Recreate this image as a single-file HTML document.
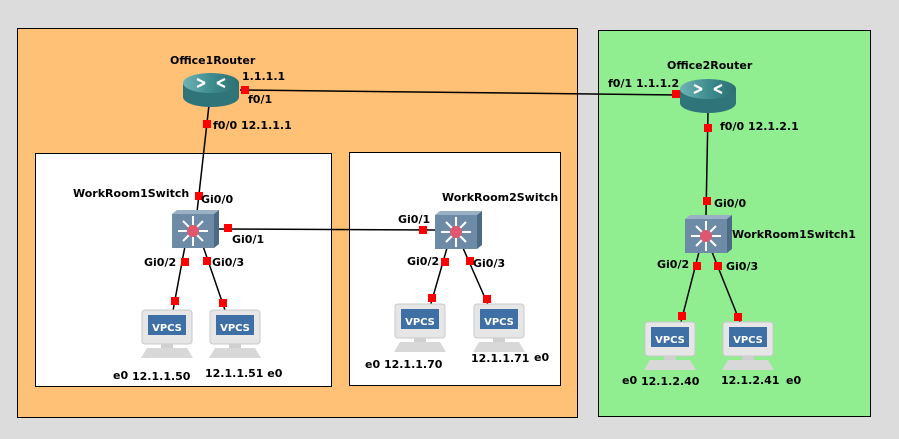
<!DOCTYPE html>
<html><head><meta charset="utf-8"><style>
html,body{margin:0;padding:0;background:#dcdcdc;}
svg{display:block;font-family:"DejaVu Sans","Liberation Sans",sans-serif;font-weight:bold;font-size:11px;}
</style></head><body>
<svg width="899" height="439" viewBox="0 0 899 439" xmlns="http://www.w3.org/2000/svg">
<defs>
<linearGradient id="rg" x1="0" y1="0" x2="1" y2="0"><stop offset="0" stop-color="#6fb3b6"/><stop offset="0.5" stop-color="#3f8c8f"/><stop offset="1" stop-color="#2c6f72"/></linearGradient>
<g id="router">
<path d="M-28,-7 v14 a28,10 0 0 0 56,0 v-14 z" fill="#2f7478"/>
<ellipse cx="0" cy="-7" rx="28" ry="10" fill="url(#rg)"/>
<path d="M-14,-11 l8,4 M-14,-3 l8,-4 M14,-11 l-8,4 M14,-3 l-8,-4" stroke="#fff" stroke-width="2.2" fill="none"/>
</g>
<g id="switch">
<path d="M-21,-15 l5,-4 h42 l-5,4 z" fill="#9ab0c4"/>
<path d="M21,-15 l5,-4 v34 l-5,4 z" fill="#4d6a85"/>
<rect x="-21" y="-15" width="42" height="34" fill="#6d8aa6"/>
<g stroke="#fff" stroke-width="2">
<path d="M-15,2 h30 M0,-13 v30 M-10,-8 l20,20 M10,-8 l-20,20"/>
</g>
<circle cx="0" cy="2" r="6" fill="#e0566f"/>
</g>
<g id="pc">
<rect x="-25" y="-18" width="50" height="34" rx="3" fill="#e6e6e6" stroke="#c8c8c8"/>
<rect x="-19" y="-13" width="38" height="20" fill="#3e6fa5"/>
<path d="M-20,20 h40 l6,10 h-52 z" fill="#d8d8d8"/>
<rect x="-6" y="16" width="12" height="4" fill="#d0d0d0"/>
</g>
</defs>
<rect x="17.5" y="28.5" width="560" height="389" fill="#ffc176" stroke="#000"/>
<rect x="598.5" y="30.5" width="272" height="386" fill="#90ee90" stroke="#000"/>
<rect x="35.5" y="153.5" width="296" height="233" fill="#fff" stroke="#000"/>
<rect x="349.5" y="152.5" width="211" height="233" fill="#fff" stroke="#000"/>
<g stroke="#000" stroke-width="1.5">
<line x1="240" y1="90" x2="680" y2="95"/>
<line x1="209" y1="105" x2="197" y2="212"/>
<line x1="215" y1="229" x2="436" y2="230"/>
<line x1="185" y1="246" x2="172" y2="316"/>
<line x1="203" y1="246" x2="227" y2="316"/>
<line x1="447" y1="248" x2="430" y2="307"/>
<line x1="463" y1="248" x2="489" y2="307"/>
<line x1="708" y1="112" x2="706" y2="215"/>
<line x1="699" y1="252" x2="681" y2="322"/>
<line x1="712" y1="252" x2="740" y2="322"/>
</g>
<use href="#router" x="211" y="90"/>
<use href="#router" x="708" y="96"/>
<use href="#switch" x="193" y="229"/>
<use href="#switch" x="456" y="230"/>
<use href="#switch" x="706" y="234"/>
<g font-size="10" fill="#fff">
<use href="#pc" x="167" y="328"/><text x="167" y="331" text-anchor="middle" fill="#fff">VPCS</text>
<use href="#pc" x="235" y="328"/><text x="235" y="331" text-anchor="middle" fill="#fff">VPCS</text>
<use href="#pc" x="420" y="322"/><text x="420" y="325" text-anchor="middle" fill="#fff">VPCS</text>
<use href="#pc" x="499" y="322"/><text x="499" y="325" text-anchor="middle" fill="#fff">VPCS</text>
<use href="#pc" x="670" y="340"/><text x="670" y="343" text-anchor="middle" fill="#fff">VPCS</text>
<use href="#pc" x="748" y="340"/><text x="748" y="343" text-anchor="middle" fill="#fff">VPCS</text>
</g>
<g fill="#f00">
<rect x="241" y="86" width="8" height="8"/>
<rect x="203" y="120" width="8" height="8"/>
<rect x="195" y="192" width="8" height="8"/>
<rect x="224" y="224" width="8" height="8"/>
<rect x="181" y="258" width="8" height="8"/>
<rect x="203" y="257" width="8" height="8"/>
<rect x="171" y="297" width="8" height="8"/>
<rect x="219" y="299" width="8" height="8"/>
<rect x="419" y="226" width="8" height="8"/>
<rect x="441" y="258" width="8" height="8"/>
<rect x="466" y="257" width="8" height="8"/>
<rect x="428" y="294" width="8" height="8"/>
<rect x="483" y="295" width="8" height="8"/>
<rect x="672" y="90" width="8" height="8"/>
<rect x="704" y="124" width="8" height="8"/>
<rect x="703" y="197" width="8" height="8"/>
<rect x="693" y="262" width="8" height="8"/>
<rect x="714" y="262" width="8" height="8"/>
<rect x="678" y="312" width="8" height="8"/>
<rect x="734" y="313" width="8" height="8"/>
</g>
<g fill="#000">
<text x="170" y="64">Office1Router</text>
<text x="242" y="80">1.1.1.1</text>
<text x="248" y="103">f0/1</text>
<text x="213" y="129">f0/0 12.1.1.1</text>
<text x="73" y="197">WorkRoom1Switch</text>
<text x="201" y="203">Gi0/0</text>
<text x="232" y="243">Gi0/1</text>
<text x="144" y="266">Gi0/2</text>
<text x="212" y="266">Gi0/3</text>
<text x="113" y="379">e0</text>
<text x="132" y="380">12.1.1.50</text>
<text x="205" y="377">12.1.1.51 e0</text>
<text x="442" y="201">WorkRoom2Switch</text>
<text x="398" y="223">Gi0/1</text>
<text x="407" y="265">Gi0/2</text>
<text x="473" y="267">Gi0/3</text>
<text x="365" y="368">e0 12.1.1.70</text>
<text x="471" y="362">12.1.1.71</text>
<text x="534" y="361">e0</text>
<text x="667" y="69">Office2Router</text>
<text x="608" y="87">f0/1 1.1.1.2</text>
<text x="720" y="130">f0/0 12.1.2.1</text>
<text x="714" y="207">Gi0/0</text>
<text x="732" y="238">WorkRoom1Switch1</text>
<text x="657" y="268">Gi0/2</text>
<text x="726" y="270">Gi0/3</text>
<text x="622" y="384">e0</text>
<text x="641" y="385">12.1.2.40</text>
<text x="721" y="384">12.1.2.41</text>
<text x="786" y="384">e0</text>
</g>
</svg>
</body></html>
